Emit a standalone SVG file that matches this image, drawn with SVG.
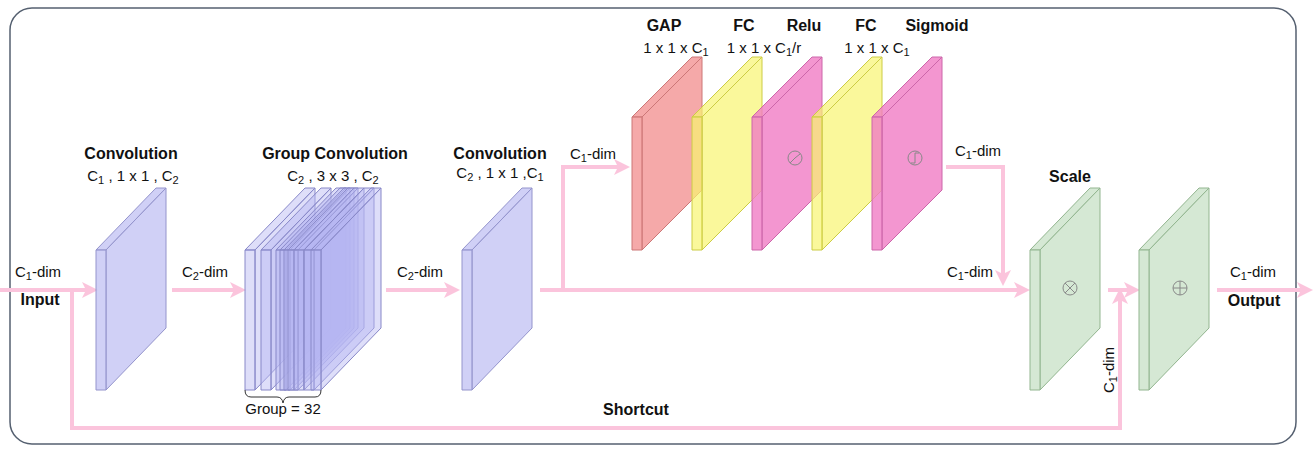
<svg xmlns="http://www.w3.org/2000/svg" width="1314" height="452" viewBox="0 0 1314 452">
<style>
text{font-family:"Liberation Sans",Arial,sans-serif;font-size:15px;fill:#111}
.b{font-weight:bold;font-size:16px}
.m{text-anchor:middle}
.c{fill:#c4c4f4;stroke:#9494cc;stroke-width:1;fill-opacity:.8}
.g{fill:#b6b6f2;stroke:#8888c8;stroke-width:1;fill-opacity:.45}
.r{fill:#f39a9a;stroke:#c77;fill-opacity:.85}
.y{fill:#f8f570;stroke:#cc4;fill-opacity:.7}
.p{fill:#f07cc4;stroke:#c6a;fill-opacity:.8}
.gr{fill:#d5e8d4;stroke:#92b58f}
.ln{fill:none;stroke:#fbc4dc;stroke-width:4}
.sym{fill:none;stroke:#888;stroke-width:1}
</style>
<defs>
<marker id="a" markerWidth="4" markerHeight="4" refX="2" refY="2" orient="auto" markerUnits="strokeWidth"><path d="M0,0L4,2L0,4L1,2Z" fill="#fbc4dc"/></marker>
<g id="s1"><polygon points="0,0 60,-62 70,-62 10,0"/><polygon points="10,0 70,-62 70,78 10,140"/><polygon points="0,0 10,0 10,140 0,140"/></g>
<g id="s2"><polygon points="0,0 60,-60 70,-60 10,0"/><polygon points="10,0 70,-60 70,73 10,133"/><polygon points="0,0 10,0 10,133 0,133"/></g>
</defs>
<rect x="10" y="8" width="1286" height="436" rx="22" fill="none" stroke="#556070" stroke-width="1.5"/>
<g id="connectors">
<path class="ln" d="M0,290H90" marker-end="url(#a)"/>
<path class="ln" d="M172,290H238" marker-end="url(#a)"/>
<path class="ln" d="M386,290H452" marker-end="url(#a)"/>
<path class="ln" d="M540,290H1022" marker-end="url(#a)"/>
<path class="ln" d="M563,290V167H622" marker-end="url(#a)"/>
<path class="ln" d="M946,167H1003V278" marker-end="url(#a)"/>
<path class="ln" d="M1108,290H1132" marker-end="url(#a)"/>
<path class="ln" d="M72,290V428H1120V296" marker-end="url(#a)"/>
<path class="ln" d="M1217,290H1305" marker-end="url(#a)"/>
</g>
<g id="conv1" class="c"><use href="#s1" x="96" y="250"/></g>
<g id="gconv" class="g">
<use href="#s1" x="245" y="250"/><use href="#s1" x="261" y="250"/><use href="#s1" x="276" y="250"/><use href="#s1" x="280" y="250"/><use href="#s1" x="284" y="250"/><use href="#s1" x="288" y="250"/><use href="#s1" x="294" y="250"/><use href="#s1" x="304" y="250"/><use href="#s1" x="311" y="250"/>
</g>
<g id="conv3" class="c"><use href="#s1" x="462" y="250"/></g>
<g id="gap" class="r"><use href="#s2" x="632" y="117"/></g>
<g id="fc1" class="y"><use href="#s2" x="692" y="117"/></g>
<g id="relu" class="p"><use href="#s2" x="752" y="117"/><circle class="sym" cx="795" cy="158" r="7"/><path class="sym" d="M790,163L795,158L800,154"/></g>
<g id="fc2" class="y"><use href="#s2" x="812" y="117"/></g>
<g id="sig" class="p"><use href="#s2" x="872" y="117"/><circle class="sym" cx="915" cy="158" r="7"/><path class="sym" d="M911,163H915V153H919"/></g>
<g id="scale" class="gr"><use href="#s1" x="1030" y="250"/><circle class="sym" cx="1070" cy="288" r="7"/><path class="sym" d="M1065,283L1075,293M1075,283L1065,293"/></g>
<g id="add" class="gr"><use href="#s1" x="1139" y="250"/><circle class="sym" cx="1180" cy="288" r="7"/><path class="sym" d="M1173,288H1187M1180,281V295"/></g>
<path d="M245,390q0,7 6,7h26q5,0 6,6q1,-6 6,-6h26q6,0 6,-7" fill="none" stroke="#333"/>
<g id="labels">
<text x="131" y="159" class="b m">Convolution</text>
<text x="133" y="181" class="m">C<tspan font-size="11" dy="3">1</tspan><tspan dy="-3"> , 1 x 1 , C</tspan><tspan font-size="11" dy="3">2</tspan></text>
<text x="335" y="159" class="b m">Group Convolution</text>
<text x="333" y="181" class="m">C<tspan font-size="11" dy="3">2</tspan><tspan dy="-3"> , 3 x 3 , C</tspan><tspan font-size="11" dy="3">2</tspan></text>
<text x="500" y="159" class="b m">Convolution</text>
<text x="500" y="178" class="m">C<tspan font-size="11" dy="3">2</tspan><tspan dy="-3"> , 1 x 1 ,C</tspan><tspan font-size="11" dy="3">1</tspan></text>
<text x="283" y="414" class="m">Group = 32</text>
<text x="664" y="31" class="b m">GAP</text>
<text x="744" y="31" class="b m">FC</text>
<text x="804" y="31" class="b m">Relu</text>
<text x="866" y="31" class="b m">FC</text>
<text x="937" y="31" class="b m">Sigmoid</text>
<text x="676" y="53" class="m">1 x 1 x C<tspan font-size="11" dy="3">1</tspan></text>
<text x="764" y="53" class="m">1 x 1 x C<tspan font-size="11" dy="3">1</tspan><tspan dy="-3">/r</tspan></text>
<text x="877" y="53" class="m">1 x 1 x C<tspan font-size="11" dy="3">1</tspan></text>
<text x="1070" y="182" class="b m">Scale</text>
<text x="38" y="277" class="m">C<tspan font-size="11" dy="3">1</tspan><tspan dy="-3">-dim</tspan></text>
<text x="40" y="305" class="b m">Input</text>
<text x="205" y="277" class="m">C<tspan font-size="11" dy="3">2</tspan><tspan dy="-3">-dim</tspan></text>
<text x="420" y="277" class="m">C<tspan font-size="11" dy="3">2</tspan><tspan dy="-3">-dim</tspan></text>
<text x="593" y="159" class="m">C<tspan font-size="11" dy="3">1</tspan><tspan dy="-3">-dim</tspan></text>
<text x="978" y="156" class="m">C<tspan font-size="11" dy="3">1</tspan><tspan dy="-3">-dim</tspan></text>
<text x="970" y="277" class="m">C<tspan font-size="11" dy="3">1</tspan><tspan dy="-3">-dim</tspan></text>
<text x="1253" y="277" class="m">C<tspan font-size="11" dy="3">1</tspan><tspan dy="-3">-dim</tspan></text>
<text x="1254" y="306" class="b m">Output</text>
<text x="636" y="415" class="b m">Shortcut</text>
<text transform="translate(1114,370) rotate(-90)" class="m">C<tspan font-size="11" dy="3">1</tspan><tspan dy="-3">-dim</tspan></text>
</g>
</svg>
